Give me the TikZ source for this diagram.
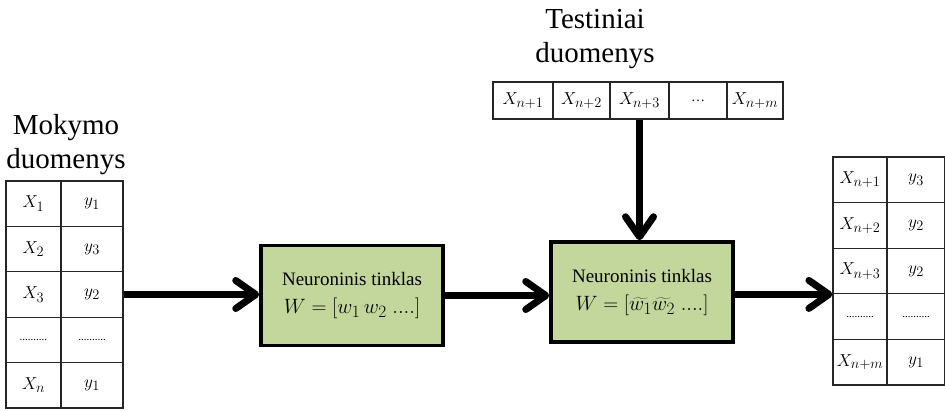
\documentclass[tikz,border=0pt]{standalone}
\usepackage{fontspec}
\setmainfont{Liberation Serif}
\usepackage{tikz}
\usetikzlibrary{arrows.meta}
\usetikzlibrary{positioning}
\usetikzlibrary{calc}
\DeclareMathSizes{19}{19}{15}{12}
\DeclareMathSizes{21}{21}{16}{12}
\definecolor{nngreen}{HTML}{C3D69B}
\tikzstyle{cell}=[draw=black!85,line width=1.2pt,rectangle,inner sep=0pt,font=\fontsize{19}{22}\selectfont]
\tikzstyle{nnbox}=[draw,fill=nngreen,line width=3.5pt,minimum width=182pt,minimum height=100pt,align=center,font=\fontsize{19}{26}\selectfont]
\tikzstyle{title}=[align=center,font=\fontsize{29}{34}\selectfont]
\tikzstyle{flow}=[line width=7pt,-{Straight Barb[length=20pt,width=28pt,round]}]
\newcommand{\dotrow}{{\fontsize{11}{11}\selectfont ..........}}
\newcommand{\nnmath}[1]{{\fontsize{21}{26}\selectfont$#1$}}

\begin{document}
\begin{tikzpicture}[x=1pt,y=-1pt]
\tikzstyle{mcell}=[cell,minimum height=45.4pt]
\tikzstyle{rcell}=[cell,minimum height=45.6pt]
\tikzstyle{tcell}=[cell,minimum height=37pt]
\useasboundingbox (0,0) rectangle (945,410);

% mokymo duomenys
\node[title] (mtitle) at (66,145) {Mokymo\\duomenys};
\node[mcell,minimum width=55pt] (m11) at (33.5,203.7) {$X_1$};
\node[mcell,minimum width=62pt] (m12) at (92,203.7) {$y_1$};
\node[mcell,minimum width=55pt] (m21) at (33.5,249.1) {$X_2$};
\node[mcell,minimum width=62pt] (m22) at (92,249.1) {$y_3$};
\node[mcell,minimum width=55pt] (m31) at (33.5,294.5) {$X_3$};
\node[mcell,minimum width=62pt] (m32) at (92,294.5) {$y_2$};
\node[mcell,minimum width=55pt] (m41) at (33.5,339.9) {\dotrow};
\node[mcell,minimum width=62pt] (m42) at (92,339.9) {\dotrow};
\node[mcell,minimum width=55pt] (m51) at (33.5,385.3) {$X_n$};
\node[mcell,minimum width=62pt] (m52) at (92,385.3) {$y_1$};

% testiniai duomenys
\node[title] (ttitle) at (595,39) {Testiniai\\duomenys};
\node[tcell,minimum width=60pt] (t1) at (523,100.5) {$X_{n+1}$};
\node[tcell,minimum width=57pt] (t2) at (581.5,100.5) {$X_{n+2}$};
\node[tcell,minimum width=59pt] (t3) at (639.5,100.5) {$X_{n+3}$};
\node[tcell,minimum width=58pt] (t4) at (698,100.5) {\fontsize{14}{14}\selectfont\ldots};
\node[tcell,minimum width=56pt] (t5) at (755,100.5) {$X_{n+m}$};

% neuroniniai tinklai
\node[nnbox] (nn1) at (352,295.5) {Neuroninis tinklas\\[2pt]\nnmath{W=[w_1\,w_2\;....]}};
\node[nnbox] (nn2) at (642,292) {Neuroninis tinklas\\[2pt]\nnmath{W=[\widetilde{w_1}\widetilde{w_2}\;....]}};

% rezultatai
\node[rcell,minimum width=54pt] (r11) at (860,179.8) {$X_{n+1}$};
\node[rcell,minimum width=58pt] (r12) at (916,179.8) {$y_3$};
\node[rcell,minimum width=54pt] (r21) at (860,225.4) {$X_{n+2}$};
\node[rcell,minimum width=58pt] (r22) at (916,225.4) {$y_2$};
\node[rcell,minimum width=54pt] (r31) at (860,271) {$X_{n+3}$};
\node[rcell,minimum width=58pt] (r32) at (916,271) {$y_2$};
\node[rcell,minimum width=54pt] (r41) at (860,316.6) {\dotrow};
\node[rcell,minimum width=58pt] (r42) at (916,316.6) {\dotrow};
\node[rcell,minimum width=54pt] (r51) at (860,362.2) {$X_{n+m}$};
\node[rcell,minimum width=58pt] (r52) at (916,362.2) {$y_1$};

\draw[flow] (m32.east) -- (m32.east -| nn1.west);
\draw[flow] (nn1.east) -- (nn1.east -| nn2.west);
\draw[flow] (t3.south) -- (t3.south |- nn2.north);
\draw[flow] (nn2.east |- r31.south) -- (r31.south west);
\end{tikzpicture}
\end{document}
